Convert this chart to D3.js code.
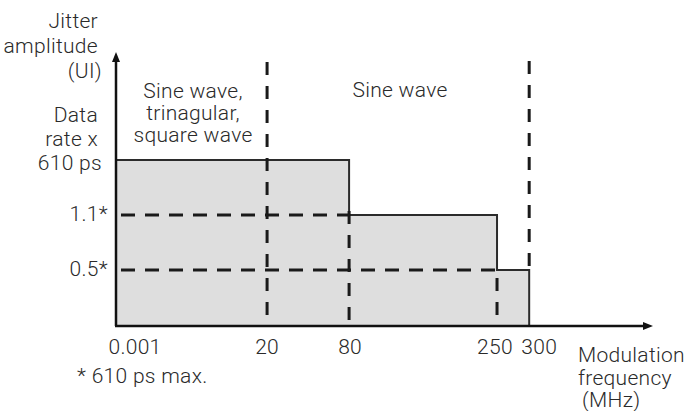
<!DOCTYPE html>
<html>
<head>
<meta charset="utf-8">
<script src="https://cdn.jsdelivr.net/npm/d3@7"></script>
<style>
  html, body { margin: 0; padding: 0; background: #fff; }
  svg text { font-family: Roboto, "Noto Sans", sans-serif; font-weight: 300; fill: #2a2a2a; letter-spacing: 0.3px; }
</style>
</head>
<body>
<svg id="chart" width="684" height="411"></svg>
<script>
// ---- data ----
const xTicks = [0.001, 20, 80, 250, 300];            // modulation frequency (MHz)
const xTickLabels = ["0.001", "20", "80", "250", "300"];
const levelNames = ["0.5*", "1.1*", "Data rate x 610 ps"]; // jitter amplitude levels (UI)
const levelIndex = [1, 2, 3];
// steps of the tolerance mask: [from, to, level]
const stepFrom = [0.001, 80, 250];
const stepTo = [80, 250, 300];
const stepLevel = [3, 2, 1];
const regionLabels = [["Sine wave,", "trinagular,", "square wave"], ["Sine wave"]];
const regionFrom = [0.001, 20];
const regionTo = [20, 300];
const yTitle = ["Jitter", "amplitude", "(UI)"];
const xTitle = ["Modulation", "frequency", "(MHz)"];
const footnote = "* 610 ps max.";

// ---- layout ----
const FS = 21;
const svg = d3.select("#chart");
const x0 = 117, xEnd = 653, yBase = 325, yTop = 50;
const W = xEnd - x0;
const breakFrac = [0, 0.28, 0.433, 0.709, 0.769];
const x = d3.scaleLinear().domain(xTicks).range(breakFrac.map(f => x0 + f * W));
const y = d3.scaleLinear().domain([0, 5]).range([yBase, yTop]);

// filled step area
const pts = [];
stepFrom.forEach((f, i) => { pts.push([f, stepLevel[i]]); pts.push([stepTo[i], stepLevel[i]]); });
const area = d3.area().x(d => x(d[0])).y0(y(0)).y1(d => y(d[1])).curve(d3.curveLinear);
svg.append("path").datum(pts).attr("d", area).attr("fill", "#dedede");

// outline
const outline = [[xTicks[0], stepLevel[0]], ...pts.slice(1), [stepTo[stepTo.length - 1], 0]];
svg.append("path").datum(outline)
  .attr("d", d3.line().x(d => x(d[0])).y(d => y(d[1])))
  .attr("fill", "none").attr("stroke", "#2b2b2b").attr("stroke-width", 2);

// dashed guide lines
const dash = "13,11";
const g = svg.append("g").attr("stroke", "#1a1a1a").attr("stroke-width", 3).attr("fill", "none");
[[2, 80], [1, 250]].forEach(([lv, xe]) => {
  g.append("line").attr("x1", x(xTicks[0]) + 2).attr("x2", x(xe))
    .attr("y1", y(lv)).attr("y2", y(lv)).attr("stroke-dasharray", "14,10").attr("stroke-dashoffset", -2);
});
const vTop = 62;
g.append("line").attr("x1", x(20)).attr("x2", x(20)).attr("y1", vTop).attr("y2", yBase).attr("stroke-dasharray", dash);
g.append("line").attr("x1", x(300)).attr("x2", x(300)).attr("y1", vTop - 1).attr("y2", y(1)).attr("stroke-dasharray", dash);
g.append("line").attr("x1", x(80)).attr("x2", x(80)).attr("y1", y(2) - 4).attr("y2", yBase).attr("stroke-dasharray", dash);
g.append("line").attr("x1", x(250)).attr("x2", x(250)).attr("y1", y(1) + 8).attr("y2", yBase).attr("stroke-dasharray", dash);

// axes
const ax = svg.append("g").attr("stroke", "#111").attr("stroke-width", 2.5);
ax.append("line").attr("x1", x0 - 1).attr("x2", x0 - 1).attr("y1", yBase + 1).attr("y2", yTop + 8);
ax.append("line").attr("x1", x0 - 2).attr("x2", xEnd - 8).attr("y1", yBase + 1).attr("y2", yBase + 1);
svg.append("path").attr("d", `M${x0 - 1},${yTop + 2} L${x0 - 5},${yTop + 12} L${x0 + 3},${yTop + 12} Z`).attr("fill", "#111");
svg.append("path").attr("d", `M${xEnd},${yBase + 1} L${xEnd - 10},${yBase - 3} L${xEnd - 10},${yBase + 5} Z`).attr("fill", "#111");

// x tick labels
const xLabelShift = [18, 0, 1, -2, 10];
svg.selectAll("text.xt").data(xTicks).join("text").attr("class", "xt")
  .attr("x", (d, i) => x(d) + xLabelShift[i]).attr("y", 354)
  .attr("text-anchor", "middle").attr("font-size", FS)
  .text((d, i) => xTickLabels[i]);

// y level labels
svg.selectAll("text.yl").data(levelIndex.slice(0, 2)).join("text").attr("class", "yl")
  .attr("x", 108).attr("y", d => y(d) + 6).attr("text-anchor", "end").attr("font-size", FS)
  .text((d, i) => levelNames[i]);
const topLabel = svg.append("text").attr("text-anchor", "end").attr("font-size", FS);
["Data", "rate x", "610 ps"].forEach((t, i) => {
  topLabel.append("tspan").attr("x", i === 2 ? 102 : 98).attr("y", y(levelIndex[2]) + 10 - (2 - i) * 24).text(t);
});

// y title
const yt = svg.append("text").attr("text-anchor", "end").attr("font-size", FS);
yTitle.forEach((t, i) => yt.append("tspan").attr("x", i === 2 ? 102 : 98).attr("y", 28 + i * 25).text(t));

// x title
const xt = svg.append("text").attr("font-size", FS);
xTitle.forEach((t, i) => xt.append("tspan").attr("x", i === 2 ? 582 : 578).attr("y", 362 + i * 22.5).text(t));

// region labels
const rl = svg.append("text").attr("text-anchor", "middle").attr("font-size", FS);
regionLabels[0].forEach((t, i) => rl.append("tspan").attr("x", (x(regionFrom[0]) + x(regionTo[0])) / 2 + 1).attr("y", 98 + i * 22).text(t));
svg.append("text").attr("text-anchor", "middle").attr("font-size", FS)
  .attr("x", 400).attr("y", 97).text(regionLabels[1][0]);

// footnote
svg.append("text").attr("x", 77).attr("y", 383).attr("font-size", FS).text(footnote);
</script>
</body>
</html>
